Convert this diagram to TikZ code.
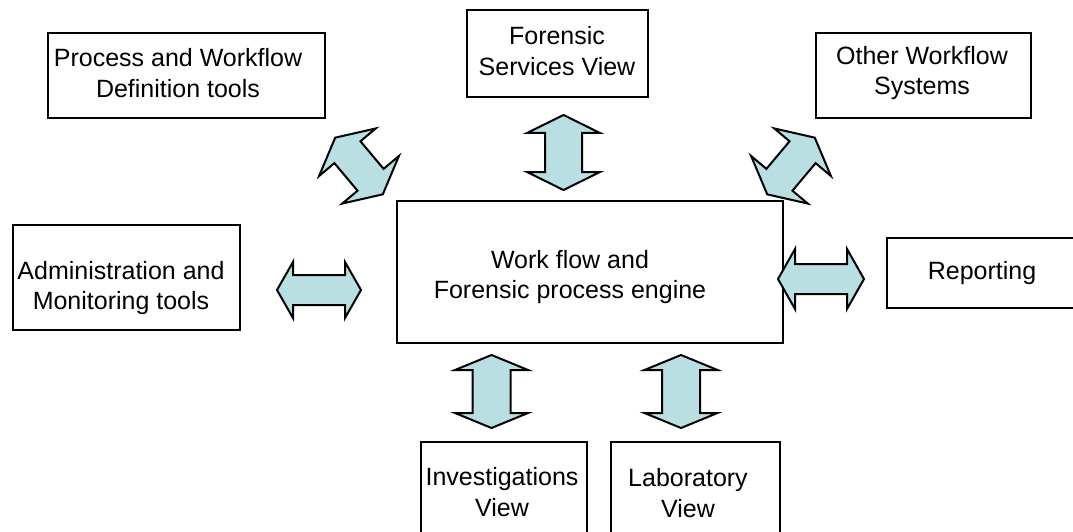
\documentclass[tikz,border=0pt]{standalone}
\usepackage{fontspec}
\setmainfont{Liberation Sans}
\definecolor{arrowfill}{RGB}{185,223,226}
% #1 name, #2 centre, #3 angle, #4 length, #5 shaft half width, #6 head half width, #7 head length
\newcommand{\fatarrow}[7]{%
  \coordinate (#1) at (#2);
  \draw[fatarrowstyle, shift={(#1)}, rotate=#3]
    ({-#4/2},0) -- ({-#4/2+#7},{-#6}) -- ({-#4/2+#7},{-#5}) -- ({#4/2-#7},{-#5})
    -- ({#4/2-#7},{-#6}) -- ({#4/2},0) -- ({#4/2-#7},{#6}) -- ({#4/2-#7},{#5})
    -- ({-#4/2+#7},{#5}) -- ({-#4/2+#7},{#6}) -- cycle;}
\begin{document}
\begin{tikzpicture}[x=1pt,y=-1pt,
  box/.style={draw=black, line width=1.8pt, inner sep=0pt},
  lbl/.style={align=center, inner sep=0pt, font=\fontsize{25}{30.5}\selectfont},
  fatarrowstyle/.style={draw=black, fill=arrowfill, line width=2pt, line join=miter}]
\useasboundingbox (0,0) rectangle (1073,532);
\clip (0,0) rectangle (1073,532);
\fill[white] (0,0) rectangle (1073,532);
% boxes
\node[box, minimum width=386pt, minimum height=142pt] (eng) at (590,272) {};
\node[box, minimum width=277pt, minimum height=85pt] (proc) at (186.5,75.5) {};
\node[box, minimum width=181pt, minimum height=87pt] (fsv) at (557.5,53.5) {};
\node[box, minimum width=215pt, minimum height=85pt] (oth) at (923.5,75.5) {};
\node[box, minimum width=227pt, minimum height=105pt] (adm) at (126.5,277.5) {};
\node[box, minimum width=203pt, minimum height=70pt] (rep) at (988.5,273) {};
\node[box, minimum width=166pt, minimum height=118pt] (inv) at (504,501) {};
\node[box, minimum width=169pt, minimum height=118pt] (lab) at (695.5,501) {};
% labels
\node[lbl] (engT) at (570,277) {Work flow and\\Forensic process engine};
\node[lbl] (procT) at (178,73) {Process and Workflow\\Definition tools};
\node[lbl] (fsvT) at (557,51) {Forensic\\Services View};
\node[lbl] (othT) at (922,73) {Other Workflow\\Systems};
\node[lbl] (admT) at (121,288) {Administration and\\Monitoring tools};
\node[lbl] (repT) at (982,273) {Reporting};
\node[lbl] (invT) at (502,492) {Investigations\\View};
\node[lbl] (labT) at (688,493) {Laboratory\\View};
% double arrows
\fatarrow{aProc}{359,166}{-50}{74}{17}{37}{19}
\fatarrow{aOth}{791,166}{50}{74}{17}{37}{19}
\fatarrow{aFsv}{563.5,152.5}{90}{75}{18.5}{36.5}{18}
\fatarrow{aAdm}{319,290}{0}{84}{15}{28}{16}
\fatarrow{aRep}{821,279}{0}{86}{15}{30}{17}
\fatarrow{aInv}{491.5,391.5}{90}{73}{19}{36.5}{15}
\fatarrow{aLab}{681,391.5}{90}{73}{19}{36.5}{15}
\end{tikzpicture}
\end{document}
